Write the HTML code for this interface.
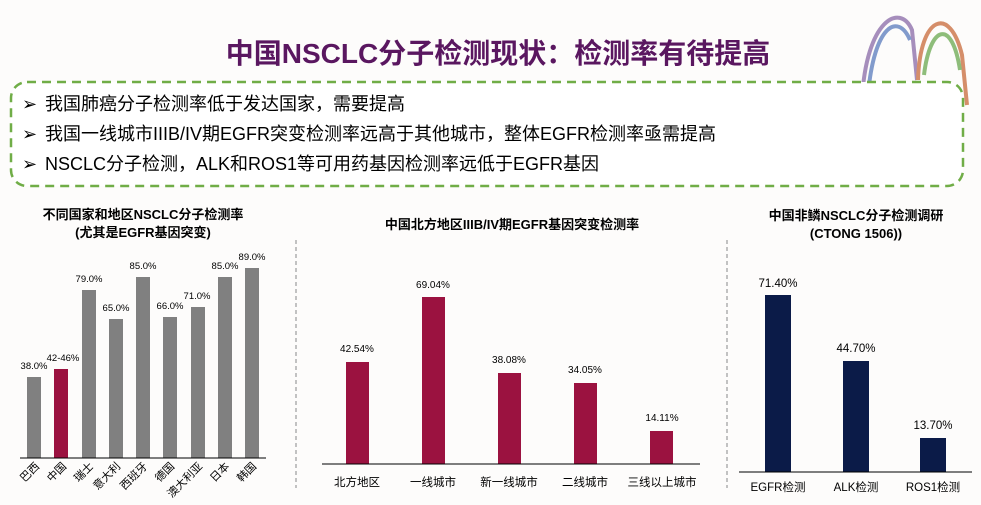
<!DOCTYPE html>
<html><head><meta charset="utf-8"><style>
body{margin:0;background:#fdfcfb;}
svg{display:block;font-family:"Liberation Sans","Noto Sans CJK SC",sans-serif;}
</style></head><body>
<svg width="981" height="505" viewBox="0 0 981 505" xmlns="http://www.w3.org/2000/svg">
<rect width="981" height="505" fill="#fdfcfb"/>
<g fill="none" stroke-width="4" opacity="0.75">
<path d="M862 100 C866 20 900 2 912 30 L917 80" stroke="#8a6aa8"/>
<path d="M868 95 C874 25 898 12 910 40" stroke="#5a7bbd"/>
<path d="M918 80 C920 15 950 5 962 55 L967 105" stroke="#c86a3a"/>
<path d="M924 75 C930 25 952 18 960 70" stroke="#6aa84f"/>
</g>
<text x="498" y="63" text-anchor="middle" font-size="28" font-weight="bold" fill="#5a1760">中国NSCLC分子检测现状：检测率有待提高</text>
<rect x="11" y="82" width="952" height="104" rx="16" fill="#fff" stroke="#70ad47" stroke-width="2.5" stroke-dasharray="9,6"/>
<g font-size="18" fill="#000">
<text x="22" y="110">➢</text><text x="45" y="110">我国肺癌分子检测率低于发达国家，需要提高</text>
<text x="22" y="140">➢</text><text x="45" y="140">我国一线城市IIIB/IV期EGFR突变检测率远高于其他城市，整体EGFR检测率亟需提高</text>
<text x="22" y="170">➢</text><text x="45" y="170">NSCLC分子检测，ALK和ROS1等可用药基因检测率远低于EGFR基因</text>
</g>
<line x1="296" y1="240" x2="296" y2="488" stroke="#888" stroke-dasharray="4,3"/>
<line x1="727" y1="240" x2="727" y2="488" stroke="#888" stroke-dasharray="4,3"/>
<g font-weight="bold" font-size="13" text-anchor="middle" fill="#000">
<text x="143" y="219">不同国家和地区NSCLC分子检测率</text>
<text x="143" y="237">(尤其是EGFR基因突变)</text>
</g>
<g fill="#808080">
<rect x="27" y="377" width="14" height="81"/>
<rect x="82" y="290" width="14" height="168"/>
<rect x="109" y="319" width="14" height="139"/>
<rect x="136" y="277" width="14" height="181"/>
<rect x="163" y="317" width="14" height="141"/>
<rect x="191" y="307" width="14" height="151"/>
<rect x="218" y="277" width="14" height="181"/>
<rect x="245" y="268" width="14" height="190"/>
</g>
<rect x="54" y="369" width="14" height="89" fill="#9b1240"/>
<line x1="20" y1="458" x2="266" y2="458" stroke="#000" stroke-width="1"/>
<g font-size="9.5" text-anchor="middle" fill="#000">
<text x="34" y="369">38.0%</text><text x="63" y="361">42-46%</text><text x="89" y="282">79.0%</text>
<text x="116" y="311">65.0%</text><text x="143" y="269">85.0%</text><text x="170" y="309">66.0%</text>
<text x="197" y="299">71.0%</text><text x="225" y="269">85.0%</text><text x="252" y="260">89.0%</text>
</g>
<g font-size="11" fill="#000" text-anchor="end">
<text transform="translate(40,467) rotate(-45)">巴西</text>
<text transform="translate(67,467) rotate(-45)">中国</text>
<text transform="translate(94,467) rotate(-45)">瑞士</text>
<text transform="translate(121,467) rotate(-45)">意大利</text>
<text transform="translate(148,467) rotate(-45)">西班牙</text>
<text transform="translate(175,467) rotate(-45)">德国</text>
<text transform="translate(203,467) rotate(-45)">澳大利亚</text>
<text transform="translate(230,467) rotate(-45)">日本</text>
<text transform="translate(257,467) rotate(-45)">韩国</text>
</g>
<text x="512" y="229" text-anchor="middle" font-size="13" font-weight="bold">中国北方地区IIIB/IV期EGFR基因突变检测率</text>
<g fill="#9b1240">
<rect x="346" y="362" width="23" height="102"/>
<rect x="422" y="297" width="23" height="167"/>
<rect x="498" y="373" width="23" height="91"/>
<rect x="574" y="383" width="23" height="81"/>
<rect x="650" y="431" width="23" height="33"/>
</g>
<line x1="322" y1="464" x2="700" y2="464" stroke="#000"/>
<g font-size="10" text-anchor="middle">
<text x="357" y="352">42.54%</text><text x="433" y="288">69.04%</text><text x="509" y="363">38.08%</text>
<text x="585" y="373">34.05%</text><text x="662" y="421">14.11%</text>
</g>
<g font-size="11.5" text-anchor="middle">
<text x="357" y="486">北方地区</text><text x="433" y="486">一线城市</text><text x="509" y="486">新一线城市</text>
<text x="585" y="486">二线城市</text><text x="662" y="486">三线以上城市</text>
</g>
<g font-weight="bold" font-size="13" text-anchor="middle">
<text x="856" y="220">中国非鳞NSCLC分子检测调研</text>
<text x="856" y="238">(CTONG 1506))</text>
</g>
<g fill="#0b1b48">
<rect x="765" y="295" width="26" height="177"/>
<rect x="843" y="361" width="26" height="111"/>
<rect x="920" y="438" width="26" height="34"/>
</g>
<line x1="739" y1="472" x2="972" y2="472" stroke="#000"/>
<g font-size="11.5" text-anchor="middle">
<text x="778" y="287">71.40%</text><text x="856" y="352">44.70%</text><text x="933" y="429">13.70%</text>
<text x="778" y="491">EGFR检测</text><text x="856" y="491">ALK检测</text><text x="933" y="491">ROS1检测</text>
</g>
</svg>
</body></html>
